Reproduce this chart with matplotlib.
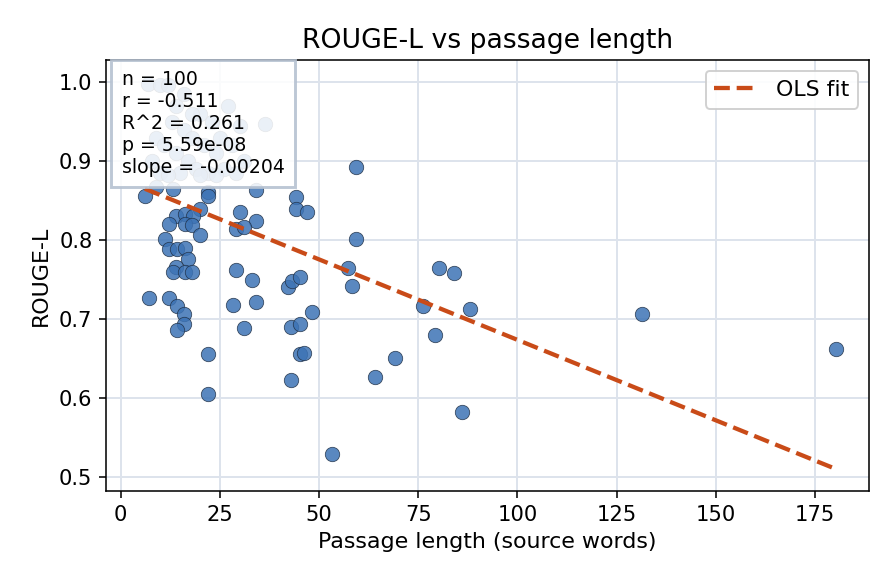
import numpy as np
import matplotlib
matplotlib.use("Agg")
import matplotlib.pyplot as plt

passage_len = [6.1, 9.0, 13.2, 22.1, 22.1, 34.2, 44.1, 44.1, 47.0, 30.1,
               34.2, 29.1, 31.2, 20.0, 13.9, 16.2, 18.3, 12.2, 16.2, 17.9,
               20.0, 11.1, 12.2, 14.1, 16.2, 17.0, 13.9, 13.1, 16.2, 18.1,
               29.1, 33.2, 42.1, 43.2, 45.2, 7.2, 12.2, 14.1, 28.2, 34.2,
               16.0, 16.0, 14.1, 31.1, 43.0, 45.2, 48.1, 22.1, 45.1, 46.2,
               43.0, 22.1, 53.2, 59.3, 59.3, 57.3, 58.3, 80.3, 84.1, 76.3,
               88.1, 79.3, 69.2, 64.1, 86.1, 131.4, 180.4, 36.3,
               7, 10, 12, 9, 11, 13, 14, 15, 16, 17,
               18, 19, 20, 21, 22, 23, 24, 25, 26, 27,
               28, 29, 30, 8, 10, 12, 14, 16, 18, 20, 24, 31]
rouge_l = [0.856, 0.867, 0.865, 0.861, 0.856, 0.863, 0.854, 0.839, 0.835, 0.836,
           0.824, 0.814, 0.816, 0.840, 0.830, 0.833, 0.831, 0.820, 0.821, 0.819,
           0.807, 0.801, 0.789, 0.789, 0.790, 0.776, 0.766, 0.760, 0.760, 0.760,
           0.762, 0.750, 0.740, 0.748, 0.753, 0.727, 0.727, 0.717, 0.718, 0.721,
           0.706, 0.693, 0.686, 0.688, 0.690, 0.694, 0.709, 0.655, 0.655, 0.657,
           0.623, 0.605, 0.529, 0.893, 0.802, 0.764, 0.742, 0.765, 0.758, 0.716,
           0.713, 0.680, 0.650, 0.627, 0.582, 0.706, 0.662, 0.947,
           0.998, 0.997, 0.996, 0.93, 0.92, 0.95, 0.91, 0.885, 0.94, 0.90,
           0.93, 0.89, 0.96, 0.92, 0.885, 0.95, 0.91, 0.93, 0.89, 0.97,
           0.92, 0.885, 0.945, 0.90, 0.885, 0.882, 0.97, 0.985, 0.96, 0.882, 0.882, 0.90]

fit_intercept = 0.8775
fit_slope = -0.00204
stats_lines = ["n = 100", "r = -0.511", "R^2 = 0.261", "p = 5.59e-08", "slope = -0.00204"]

x = np.array(passage_len)
y = np.array(rouge_l)

fig = plt.figure(figsize=(6.4, 584 / 140), dpi=140)
ax = fig.add_axes([106 / 896, 1 - 491 / 584, (869 - 106) / 896, (491 - 60) / 584])

ax.grid(True, color="#dde3ec", linewidth=1.0)
ax.set_axisbelow(True)
ax.scatter(x, y, s=55, color="#3d73b5", alpha=0.85, edgecolors="#1f2f45",
           linewidths=0.4, zorder=3)

xs = np.array([x.min(), x.max()])
ax.plot(xs, fit_intercept + fit_slope * xs, linestyle="--", color="#c94b18",
        linewidth=2.2, label="OLS fit", zorder=4)

ax.set_xlim(-3.7, 188.6)
ax.set_ylim(0.4819, 1.0283)
ax.set_xticks([0, 25, 50, 75, 100, 125, 150, 175])
ax.set_yticks([0.5, 0.6, 0.7, 0.8, 0.9, 1.0])
ax.tick_params(labelsize=10.8)
ax.set_title("ROUGE-L vs passage length", fontsize=13.7)
ax.set_xlabel("Passage length (source words)", fontsize=11.4)
ax.set_ylabel("ROUGE-L", fontsize=11.4)

ax.text(0.0206, 0.977, "\n".join(stats_lines), transform=ax.transAxes, va="top",
        ha="left", fontsize=9.7, zorder=5, linespacing=1.2,
        bbox=dict(boxstyle="square,pad=0.55", fc="white", alpha=0.88,
                  ec="#b4c0d0", lw=1.5))

ax.legend(loc="upper right", fontsize=11.3, framealpha=0.9, edgecolor="#cccccc")

fig.savefig("out.png", dpi=140)
